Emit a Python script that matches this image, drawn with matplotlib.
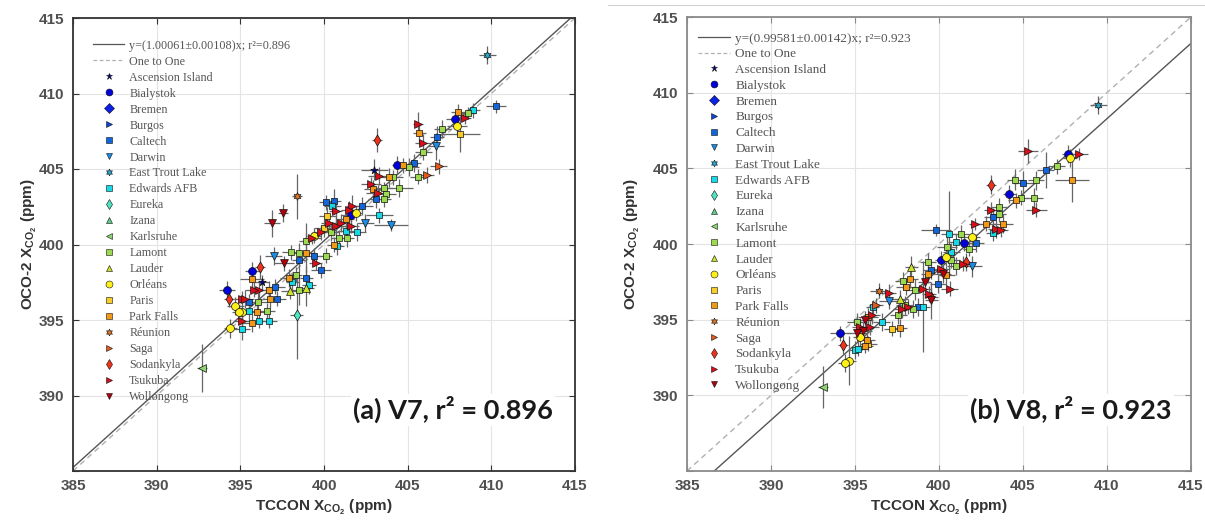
import numpy as np
import matplotlib
matplotlib.use("Agg")
import matplotlib.pyplot as plt
from matplotlib.lines import Line2D

plt.rcParams["mathtext.fontset"] = "custom"
plt.rcParams["mathtext.rm"] = "Liberation Sans:bold"
plt.rcParams["mathtext.it"] = "Liberation Sans:bold"
plt.rcParams["mathtext.bf"] = "Liberation Sans:bold"

# ---- TCCON sites (legend order) ----
sites = ["Ascension Island", "Bialystok", "Bremen", "Burgos", "Caltech", "Darwin",
         "East Trout Lake", "Edwards AFB", "Eureka", "Izana", "Karlsruhe", "Lamont",
         "Lauder", "Orléans", "Paris", "Park Falls", "Réunion", "Saga", "Sodankyla",
         "Tsukuba", "Wollongong"]
hexagram = (6, 1, 0)
site_markers = ["*", "o", "D", ">", "s", "v", hexagram, "s", "d", "^", "<", "s",
                "^", "o", "s", "s", hexagram, ">", "d", ">", "v"]
site_colors = ["#00008c", "#0000d8", "#0a22e6", "#0d45e0", "#1266dc", "#1a8ee6",
               "#25a6cc", "#16d8e6", "#4ee6c0", "#60cc8c", "#8cd870", "#9cd850",
               "#cce030", "#fff01a", "#f8cc26", "#f29a18", "#d87426", "#e6581a",
               "#f0321a", "#d80d1a", "#b0000c"]

# ---- V7 co-located soundings ----
v7_tccon = [409.75, 410.26, 408.0, 407.8, 408.4, 408.6, 408.9, 407.94, 408.14, 405.64,
            405.7, 405.94, 406.76, 407.06, 406.7, 405.94, 403.16, 406.86, 406.16, 405.64,
            405.4, 405.06, 404.74, 404.36, 404.5, 404.1, 403.9, 403.0, 403.3, 402.8,
            402.9, 403.2, 403.6, 403.7, 403.6, 403.1, 402.3, 401.7, 403.3, 402.46,
            404.0, 402.0, 401.9, 401.6, 401.5, 401.6, 401.3, 401.0, 400.7, 400.6,
            400.1, 400.5, 400.2, 400.3, 400.7, 400.0, 400.4, 399.8, 399.4, 399.3,
            398.9, 400.6, 400.8, 401.4, 401.3, 400.9, 398.4, 397.54, 396.9, 397.0,
            398.0, 398.5, 398.9, 399.4, 400.1, 398.5, 397.6, 399.5, 399.8, 398.94,
            398.3, 397.9, 398.1, 397.94, 398.5, 398.9, 399.1, 395.7, 396.2, 395.7,
            396.1, 395.8, 396.3, 396.7, 397.06, 394.2, 394.3, 394.7, 395.1, 395.3,
            395.5, 396.06, 396.8, 397.2, 395.1, 395.5, 396.0, 396.6, 394.9, 395.1,
            395.7, 396.1, 396.7, 395.1, 394.4, 398.36, 392.7]
v7_oco2 = [412.55, 409.14, 408.8, 408.3, 408.4, 408.7, 408.9, 407.86, 407.3, 407.97,
           407.37, 406.75, 407.15, 407.64, 406.5, 406.1, 406.9, 405.17, 404.6, 404.5,
           405.39, 405.14, 405.25, 405.25, 403.73, 404.44, 404.44, 404.94, 404.55, 404.0,
           403.7, 403.44, 403.77, 403.33, 403.0, 403.0, 402.56, 402.56, 401.94, 401.45,
           401.28, 400.8, 402.07, 401.94, 402.3, 401.23, 401.7, 401.45, 402.23, 402.9,
           402.8, 402.56, 401.9, 401.45, 401.2, 401.1, 400.8, 400.8, 400.57, 400.46,
           400.24, 400.0, 399.9, 400.46, 400.9, 400.46, 403.2, 402.07, 401.4, 399.25,
           399.5, 399.47, 399.47, 399.25, 399.25, 398.99, 398.76, 398.8, 398.3, 397.8,
           398.0, 397.8, 397.5, 396.9, 397.0, 397.1, 397.3, 398.26, 398.5, 397.7,
           397.0, 397.0, 397.5, 397.0, 397.2, 396.97, 396.38, 395.9, 396.4, 396.4,
           396.2, 396.2, 396.4, 396.4, 395.5, 395.6, 395.5, 395.6, 395.5, 394.95,
           394.83, 394.95, 394.95, 394.4, 394.44, 395.3, 391.8]
v7_site = [6, 4, 15, 1, 19, 11, 7, 13, 14, 19,
           15, 19, 4, 11, 5, 11, 18, 17, 17, 11,
           4, 11, 15, 1, 11, 11, 15, 0, 19, 19,
           15, 19, 11, 11, 11, 4, 4, 19, 7, 5,
           5, 7, 13, 1, 19, 19, 15, 19, 19, 4,
           4, 7, 14, 19, 19, 14, 11, 19, 13, 19,
           11, 15, 7, 11, 7, 11, 16, 20, 20, 5,
           11, 11, 15, 4, 11, 4, 20, 19, 4, 4,
           11, 15, 7, 12, 11, 12, 7, 1, 18, 15,
           19, 19, 0, 15, 4, 1, 18, 13, 19, 19,
           4, 11, 15, 4, 13, 7, 15, 11, 13, 19,
           15, 7, 7, 7, 13, 8, 10]
v7_xerr = [0.5, 0.6, 0.4, 0.5, 0.4, 0.5, 0.4, 0.6, 1.2, 0.3,
           0.4, 0.5, 0.4, 0.5, 0.5, 0.5, 0.3, 0.5, 0.4, 0.5,
           0.4, 0.6, 0.4, 0.3, 0.8, 0.6, 0.5, 0.8, 0.7, 0.6,
           0.5, 0.7, 0.5, 0.6, 0.4, 0.5, 0.6, 0.4, 0.8, 0.5,
           1.0, 0.5, 0.4, 0.6, 0.5, 0.5, 0.5, 0.5, 0.4, 0.4,
           0.4, 0.5, 0.5, 0.5, 0.6, 0.6, 0.5, 0.4, 0.4, 0.5,
           0.4, 0.4, 0.4, 0.4, 0.5, 0.5, 0.3, 0.3, 0.5, 0.5,
           0.5, 0.5, 0.5, 0.5, 0.4, 0.4, 0.6, 0.4, 0.6, 0.4,
           0.4, 0.5, 0.4, 0.5, 0.4, 0.5, 0.4, 0.4, 0.3, 0.7,
           0.6, 0.5, 0.4, 0.5, 0.6, 0.5, 0.3, 0.5, 0.5, 0.5,
           0.6, 0.6, 0.5, 0.5, 0.5, 0.4, 0.5, 0.5, 0.4, 0.5,
           0.6, 0.4, 0.5, 0.5, 0.4, 0.4, 0.3]
v7_yerr = [0.6, 0.4, 0.5, 0.5, 0.4, 0.4, 0.5, 0.6, 1.2, 0.8,
           0.7, 0.6, 0.7, 0.6, 0.9, 0.5, 0.8, 0.5, 0.5, 0.5,
           0.6, 0.6, 0.5, 0.6, 0.6, 0.5, 0.6, 0.7, 0.6, 0.5,
           0.6, 0.5, 0.4, 0.5, 0.5, 0.6, 0.6, 0.7, 0.5, 0.6,
           0.4, 0.6, 0.5, 0.6, 0.6, 0.5, 0.8, 0.6, 0.8, 0.8,
           0.5, 0.5, 0.6, 0.5, 0.7, 0.6, 0.6, 0.5, 0.5, 0.4,
           1.2, 0.5, 0.6, 0.6, 0.5, 0.5, 1.5, 0.6, 0.9, 0.6,
           0.5, 0.6, 1.3, 0.5, 0.5, 0.8, 0.5, 0.5, 0.5, 0.8,
           0.5, 0.6, 0.6, 0.5, 1.0, 1.2, 0.6, 0.6, 0.8, 0.6,
           0.6, 0.5, 0.5, 0.6, 0.5, 0.6, 0.5, 0.6, 0.5, 0.6,
           0.5, 0.6, 0.6, 0.5, 0.5, 0.6, 0.6, 0.5, 0.5, 0.6,
           0.6, 0.5, 0.5, 0.7, 0.6, 2.9, 1.6]

# ---- V8 co-located soundings ----
v8_tccon = [409.49, 405.28, 407.7, 407.79, 408.34, 407.0, 406.36, 407.9, 405.77, 405.02,
            404.55, 403.1, 404.19, 404.58, 404.88, 405.67, 405.8, 403.6, 403.1, 403.2,
            403.56, 403.8, 402.8, 402.17, 403.4, 403.2, 403.7, 399.84, 400.6, 401.3,
            401.97, 401.5, 402.2, 401.03, 400.5, 401.8, 400.73, 400.43, 400.14, 400.73,
            401.0, 401.4, 401.6, 401.97, 399.35, 400.14, 400.24, 399.55, 400.43, 400.63,
            399.94, 399.55, 399.55, 399.05, 398.75, 399.4, 397.87, 398.26, 398.06, 398.56,
            399.05, 399.15, 399.35, 398.36, 398.46, 398.16, 397.77, 397.04, 397.04, 396.4,
            396.25, 397.67, 397.96, 397.57, 397.67, 397.23, 396.58, 396.0, 395.79, 395.6,
            395.1, 395.3, 395.9, 395.5, 395.1, 395.3, 395.7, 395.6, 395.8, 394.1,
            394.3, 395.0, 395.2, 394.66, 394.4, 393.1, 396.05]
v8_oco2 = [409.18, 406.16, 405.94, 405.7, 405.92, 405.14, 404.88, 404.26, 404.2, 404.0,
           404.26, 403.93, 403.3, 402.9, 403.07, 403.07, 402.27, 402.45, 402.27, 401.8,
           401.96, 401.35, 401.35, 401.35, 401.0, 400.73, 400.95, 400.95, 400.68, 400.68,
           400.46, 400.07, 400.07, 400.13, 399.8, 399.7, 399.47, 399.14, 398.92, 398.92,
           398.52, 398.7, 398.8, 398.52, 398.8, 398.37, 398.03, 398.3, 397.92, 397.04,
           397.37, 396.49, 396.27, 395.87, 395.83, 396.7, 397.53, 397.7, 397.15, 396.98,
           397.04, 397.48, 398.03, 398.48, 395.72, 395.87, 395.72, 396.22, 396.76, 396.9,
           395.94, 396.38, 395.94, 395.34, 394.44, 394.4, 394.84, 395.34, 395.17, 394.99,
           394.84, 394.5, 394.5, 394.28, 394.1, 393.84, 393.66, 393.29, 393.4, 394.1,
           393.35, 393.0, 393.07, 392.3, 392.12, 390.57, 395.83]
v8_site = [6, 19, 1, 13, 19, 11, 4, 15, 11, 4,
           11, 18, 1, 15, 11, 11, 19, 11, 19, 4,
           11, 15, 15, 19, 19, 7, 19, 4, 7, 11,
           13, 1, 4, 7, 11, 11, 7, 13, 1, 11,
           11, 19, 18, 5, 11, 19, 20, 4, 15, 19,
           4, 18, 20, 7, 4, 19, 11, 15, 15, 11,
           19, 20, 15, 12, 11, 19, 19, 5, 19, 16,
           17, 12, 11, 11, 15, 14, 7, 19, 15, 20,
           11, 19, 19, 20, 20, 13, 15, 15, 14, 1,
           18, 7, 7, 13, 13, 10, 7]
v8_xerr = [0.5, 0.6, 0.4, 0.4, 0.5, 0.5, 0.5, 1.0, 0.5, 0.6,
           0.5, 0.3, 0.4, 0.5, 0.4, 0.5, 0.6, 0.5, 0.4, 0.5,
           0.4, 0.6, 0.6, 0.4, 0.5, 0.4, 0.4, 0.9, 0.5, 0.5,
           0.5, 0.4, 0.5, 0.5, 0.6, 0.4, 0.5, 0.4, 0.4, 0.5,
           0.5, 0.5, 0.3, 0.6, 0.5, 0.5, 0.5, 0.5, 0.5, 0.5,
           0.5, 0.4, 0.4, 0.4, 0.5, 0.4, 0.5, 0.5, 0.6, 0.5,
           0.5, 0.4, 0.4, 0.4, 0.5, 0.5, 0.5, 0.6, 0.4, 0.5,
           0.4, 0.5, 0.5, 0.5, 0.4, 0.5, 0.5, 0.5, 0.6, 0.5,
           0.6, 0.5, 0.5, 0.5, 0.6, 0.4, 0.5, 0.5, 0.5, 0.6,
           0.3, 0.4, 0.4, 0.4, 0.4, 0.3, 0.4]
v8_yerr = [0.6, 0.8, 0.6, 0.6, 0.4, 0.5, 1.2, 1.5, 0.6, 0.8,
           0.7, 0.6, 0.6, 0.5, 0.5, 0.6, 0.5, 0.6, 0.5, 0.6,
           0.5, 0.6, 0.5, 0.4, 0.6, 0.5, 0.5, 0.4, 2.8, 0.6,
           0.6, 0.5, 0.6, 0.5, 0.7, 0.5, 0.6, 0.6, 0.6, 0.5,
           0.6, 0.5, 0.6, 0.7, 0.6, 0.5, 0.6, 0.6, 0.6, 0.5,
           0.6, 0.6, 1.2, 3.0, 0.6, 0.5, 0.6, 0.6, 0.5, 0.7,
           0.6, 0.5, 0.6, 0.7, 0.6, 0.5, 0.6, 0.5, 0.6, 0.5,
           0.5, 0.6, 0.6, 0.6, 0.6, 0.5, 0.6, 0.6, 0.6, 0.6,
           0.6, 0.6, 0.5, 0.6, 0.6, 0.6, 0.6, 0.5, 0.5, 0.5,
           0.6, 0.6, 0.5, 1.6, 0.6, 1.4, 0.5]

# ---- regression results ----
fit_slope = [1.00061, 0.99581]
fit_err = [0.00108, 0.00142]
fit_r2 = ["0.896", "0.923"]
panel_tags = ["(a) V7", "(b) V8"]

ticks = [385, 390, 395, 400, 405, 410, 415]

fig = plt.figure(figsize=(12.05, 5.25), dpi=100)
W, H = 1205.0, 525.0
ax_boxes = [(73, 18, 575, 471), (687, 17, 1191, 471)]
panels = [(v7_tccon, v7_oco2, v7_site, v7_xerr, v7_yerr),
          (v8_tccon, v8_oco2, v8_site, v8_xerr, v8_yerr)]
spine_colors = ["#333333", "#8a8a8a"]
legend_size = [8.7, 9.5]
legend_spacing = [0.33, 0.27]
legend_anchor = [(0.03, 0.963), (0.012, 0.978)]
legend_handlelen = [2.6, 2.4]
ylabel_pad = [0, 8]
label_pos = [(0.956, 0.135), (0.962, 0.135)]
tick_font = dict(family="Liberation Sans", weight="bold", size=11)

# faint frame edge around the second panel's card
fig.add_artist(Line2D([608 / W, 1.0], [1 - 5 / H, 1 - 5 / H], color="#d0d0d0", lw=0.8))

for k, (x0, y0, x1, y1) in enumerate(ax_boxes):
    ax = fig.add_axes([x0 / W, 1 - y1 / H, (x1 - x0) / W, (y1 - y0) / H])
    tx, oy, st, xe, ye = [np.asarray(a) for a in panels[k]]

    ax.set_xlim(385, 415)
    ax.set_ylim(385, 415)
    ax.set_xticks(ticks)
    ax.set_yticks(ticks)
    ax.set_xticklabels([str(t) for t in ticks], **tick_font, color="#505050")
    ax.set_yticklabels([""] + [str(t) for t in ticks[1:]], **tick_font, color="#505050")
    ax.tick_params(direction="in", top=True, right=True, length=4, width=0.8,
                   color=spine_colors[k], pad=6)
    ax.grid(True, color="#e4e4e4", lw=0.8)
    ax.set_axisbelow(True)
    for s in ax.spines.values():
        s.set_color(spine_colors[k])
        s.set_linewidth(1.3)

    xs = np.array([385.0, 415.0])
    ax.plot(xs, xs, ls=(0, (4, 3)), color="#b0b0b0", lw=1.0, zorder=2)
    ax.plot(xs, fit_slope[k] * xs, color="#555555", lw=1.0, zorder=2)

    ax.errorbar(tx, oy, xerr=xe, yerr=ye, fmt="none", ecolor="#666666",
                elinewidth=0.9, capsize=0, zorder=3)
    for i in range(len(sites)):
        m = st == i
        if m.any():
            size = 24 if site_markers[i] in ("s", "D") else 32
            ax.scatter(tx[m], oy[m], marker=site_markers[i], s=size,
                       facecolor=site_colors[i], edgecolor="#111111", linewidths=0.5,
                       zorder=4)

    handles = [
        Line2D([], [], color="#555555", lw=0.9,
               label=f"y=({fit_slope[k]:.5f}±{fit_err[k]:.5f})x; r²={fit_r2[k]}"),
        Line2D([], [], color="#b0b0b0", lw=0.9, ls=(0, (3, 2)), label="One to One"),
    ]
    for i, name in enumerate(sites):
        handles.append(Line2D([], [], ls="none", marker=site_markers[i], ms=5,
                              mfc=site_colors[i], mec="#111111", mew=0.4, label=name))
    leg = ax.legend(handles=handles, loc="upper left", frameon=False,
                    bbox_to_anchor=legend_anchor[k], borderaxespad=0,
                    prop=dict(family="Liberation Serif", size=legend_size[k]),
                    handlelength=legend_handlelen[k], handletextpad=0.4,
                    labelspacing=legend_spacing[k])
    for t in leg.get_texts():
        t.set_color("#555555")

    ax.set_xlabel(r"TCCON X$_{\mathregular{CO_2}}$ (ppm)", family="Liberation Sans",
                  weight="bold", size=11, color="#333333", labelpad=3)
    ax.set_ylabel(r"OCO-2 X$_{\mathregular{CO_2}}$ (ppm)", family="Liberation Sans",
                  weight="bold", size=11, color="#333333", labelpad=ylabel_pad[k])

    ax.text(label_pos[k][0], label_pos[k][1], f"{panel_tags[k]}, r² = {fit_r2[k]}",
            transform=ax.transAxes, ha="right", va="center", family="Lato",
            weight="bold", size=19.5, color="#1a1a1a", zorder=6,
            bbox=dict(facecolor="white", edgecolor="none", pad=1.5))

fig.savefig("out.png", dpi=100)
